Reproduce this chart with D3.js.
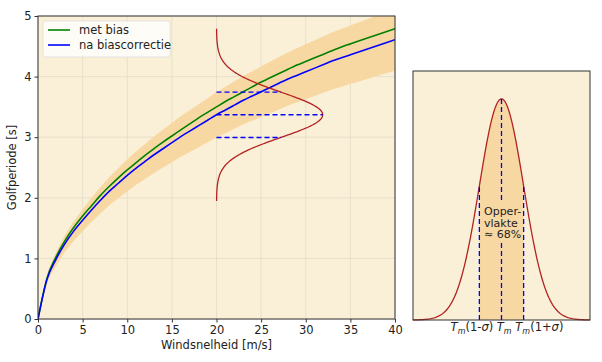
<!DOCTYPE html>
<html>
<head>
<meta charset="utf-8">
<script src="https://cdn.jsdelivr.net/npm/d3@7"></script>
<style>
  body { margin: 0; background: #fff; }
  text { font-family: "DejaVu Sans", sans-serif; fill: #222; }
</style>
</head>
<body>
<div id="chart"></div>
<script>
// wind speed samples [m/s]
var windSpeed = d3.range(0, 41);
// wave period, with bias [s]
var metBias = [0, 0.67, 1.02, 1.29, 1.51, 1.70, 1.87, 2.04, 2.19, 2.33, 2.46,
  2.58, 2.70, 2.81, 2.92, 3.02, 3.12, 3.22, 3.32, 3.41, 3.50,
  3.59, 3.67, 3.75, 3.83, 3.91, 3.98, 4.05, 4.12, 4.19, 4.25,
  4.31, 4.37, 4.43, 4.49, 4.54, 4.59, 4.64, 4.69, 4.74, 4.79];
// wave period after bias correction [s]
var naCorrectie = [0, 0.65, 0.98, 1.24, 1.45, 1.63, 1.80, 1.96, 2.11, 2.24, 2.37,
  2.49, 2.60, 2.71, 2.81, 2.91, 3.01, 3.10, 3.19, 3.28, 3.37,
  3.45, 3.53, 3.61, 3.68, 3.75, 3.82, 3.89, 3.96, 4.02, 4.08,
  4.14, 4.20, 4.26, 4.31, 4.36, 4.41, 4.46, 4.51, 4.56, 4.61];
var sigma = 0.111;          // relative spread of the band
var pdfWind = 20;           // where the distribution is drawn
var pdfPeak = 11.9;         // height of that distribution, in m/s
var xTicks = [0, 5, 10, 15, 20, 25, 30, 35, 40];
var yTicks = [0, 1, 2, 3, 4, 5];
var legendLabels = ["met bias", "na biascorrectie"];
var legendColors = ["#008000", "#0000ff"];

var bg = "#faf0d8", band = "#f8d8a2", red = "#b22222";

var svg = d3.select("#chart").append("svg")
  .attr("width", 602).attr("height", 362);

// ---------- left panel ----------
var L = {left: 38, top: 16, right: 395, bottom: 319};
var x = d3.scaleLinear().domain([0, 40]).range([L.left, L.right]);
var y = d3.scaleLinear().domain([0, 5]).range([L.bottom, L.top]);

var left = svg.append("g");
left.append("rect")
  .attr("x", L.left).attr("y", L.top)
  .attr("width", L.right - L.left).attr("height", L.bottom - L.top)
  .attr("fill", bg);

svg.append("clipPath").attr("id", "clipL").append("rect")
  .attr("x", L.left).attr("y", L.top)
  .attr("width", L.right - L.left).attr("height", L.bottom - L.top);

// grid
left.append("g").selectAll("line").data(xTicks).enter().append("line")
  .attr("x1", function(d){ return x(d); }).attr("x2", function(d){ return x(d); })
  .attr("y1", L.top).attr("y2", L.bottom)
  .attr("stroke", "#e4dcc9").attr("stroke-width", 0.8);
left.append("g").selectAll("line").data(yTicks).enter().append("line")
  .attr("y1", function(d){ return y(d); }).attr("y2", function(d){ return y(d); })
  .attr("x1", L.left).attr("x2", L.right)
  .attr("stroke", "#e4dcc9").attr("stroke-width", 0.8);

var plot = left.append("g").attr("clip-path", "url(#clipL)");

// band Tm(1-sigma) .. Tm(1+sigma)
var area = d3.area()
  .curve(d3.curveMonotoneX)
  .x(function(d, i){ return x(windSpeed[i]); })
  .y0(function(d){ return y(d * (1 - sigma)); })
  .y1(function(d){ return y(d * (1 + sigma)); });
plot.append("path").datum(naCorrectie).attr("d", area).attr("fill", band);

var line = d3.line()
  .curve(d3.curveMonotoneX)
  .x(function(d, i){ return x(windSpeed[i]); })
  .y(function(d){ return y(d); });
plot.append("path").datum(metBias).attr("d", line)
  .attr("fill", "none").attr("stroke", legendColors[0]).attr("stroke-width", 1.6);
plot.append("path").datum(naCorrectie).attr("d", line)
  .attr("fill", "none").attr("stroke", legendColors[1]).attr("stroke-width", 1.6);

// distribution at pdfWind
var mu = naCorrectie[pdfWind], sd = mu * sigma;
var gauss = function(t){ return Math.exp(-0.5 * t * t); };
var ts = d3.range(-3.8, 3.8001, 0.05);
plot.append("path").datum(ts)
  .attr("d", d3.line()
    .x(function(t){ return x(pdfWind + pdfPeak * gauss(t)); })
    .y(function(t){ return y(mu + t * sd); }))
  .attr("fill", "none").attr("stroke", red).attr("stroke-width", 1.3);

plot.selectAll(".dash").data([-1, 0, 1]).enter().append("line")
  .attr("x1", x(pdfWind))
  .attr("x2", function(t){ return x(pdfWind + pdfPeak * gauss(t)); })
  .attr("y1", function(t){ return y(mu + t * sd); })
  .attr("y2", function(t){ return y(mu + t * sd); })
  .attr("stroke", "#0000ff").attr("stroke-width", 1.4)
  .attr("stroke-dasharray", "5,3");

left.append("rect")
  .attr("x", L.left).attr("y", L.top)
  .attr("width", L.right - L.left).attr("height", L.bottom - L.top)
  .attr("fill", "none").attr("stroke", "#333").attr("stroke-width", 1);

// axes
var xAxis = left.append("g").attr("transform", "translate(0," + L.bottom + ")")
  .call(d3.axisBottom(x).tickValues(xTicks).tickFormat(d3.format("d"))
    .tickSize(3.5).tickPadding(3));
var yAxis = left.append("g").attr("transform", "translate(" + L.left + ",0)")
  .call(d3.axisLeft(y).tickValues(yTicks).tickFormat(d3.format("d"))
    .tickSize(3.5).tickPadding(3));
[xAxis, yAxis].forEach(function(a){
  a.select(".domain").remove();
  a.selectAll("text").style("font-size", "11.5px").attr("fill", "#222")
    .style("font-family", "DejaVu Sans, sans-serif");
  a.selectAll("line").attr("stroke", "#333");
});

svg.append("text").attr("x", (L.left + L.right) / 2).attr("y", 349)
  .attr("text-anchor", "middle").style("font-size", "11.5px")
  .text("Windsnelheid [m/s]");
svg.append("text")
  .attr("transform", "translate(16," + ((L.top + L.bottom) / 2) + ") rotate(-90)")
  .attr("text-anchor", "middle").style("font-size", "11.5px")
  .text("Golfperiode [s]");

// legend
var lg = left.append("g");
lg.append("rect").attr("x", 43).attr("y", 21).attr("width", 127).attr("height", 36)
  .attr("rx", 2.5).attr("fill", "#fff").attr("fill-opacity", 0.8)
  .attr("stroke", "#ddd").attr("stroke-width", 0.8);
legendLabels.forEach(function(d, i){
  var ly = 30 + i * 15;
  lg.append("line").attr("x1", 48).attr("x2", 70).attr("y1", ly).attr("y2", ly)
    .attr("stroke", legendColors[i]).attr("stroke-width", 1.6);
  lg.append("text").attr("x", 79).attr("y", ly + 4)
    .style("font-size", "11.5px").text(d);
});

// ---------- right panel ----------
var R = {left: 413, top: 71, right: 590, bottom: 320};
var xr = d3.scaleLinear().domain([-4, 4]).range([R.left, R.right]);
var yr = d3.scaleLinear().domain([0, 1.126]).range([R.bottom, R.top]);

var right = svg.append("g");
right.append("rect")
  .attr("x", R.left).attr("y", R.top)
  .attr("width", R.right - R.left).attr("height", R.bottom - R.top)
  .attr("fill", bg);

var tsR = d3.range(-4, 4.0001, 0.05);
var inner = tsR.filter(function(t){ return t >= -1 - 1e-9 && t <= 1 + 1e-9; });
right.append("path").datum(inner)
  .attr("d", d3.area()
    .x(function(t){ return xr(t); })
    .y0(yr(0))
    .y1(function(t){ return yr(gauss(t)); }))
  .attr("fill", band);

right.append("path").datum(tsR)
  .attr("d", d3.line()
    .x(function(t){ return xr(t); })
    .y(function(t){ return yr(gauss(t)); }))
  .attr("fill", "none").attr("stroke", red).attr("stroke-width", 1.3);

right.selectAll(".vdash").data([-1, 0, 1]).enter().append("line")
  .attr("x1", function(t){ return xr(t); }).attr("x2", function(t){ return xr(t); })
  .attr("y1", yr(0)).attr("y2", function(t){ return yr(gauss(t)); })
  .attr("stroke", "#0000ff").attr("stroke-width", 1.3)
  .attr("stroke-dasharray", "5,3");

right.append("rect")
  .attr("x", R.left).attr("y", R.top)
  .attr("width", R.right - R.left).attr("height", R.bottom - R.top)
  .attr("fill", "none").attr("stroke", "#333").attr("stroke-width", 1);

// note with a band-coloured box behind it
right.append("rect").attr("x", 483).attr("y", 203).attr("width", 38).attr("height", 39)
  .attr("fill", band);
var note = right.append("text").attr("x", 484).attr("y", 215)
  .style("font-size", "11px");
["Opper-", "vlakte", "\u2248 68%"].forEach(function(s, i){
  note.append("tspan").attr("x", 484).attr("dy", i ? 11.7 : 0).text(s);
});

// bottom labels: one line under the three dashed lines
var lab = right.append("text").attr("x", 507).attr("y", 331)
  .attr("text-anchor", "middle").style("font-size", "11.5px");
var parts = [["T", "i"], ["m", "s"], ["(1-", ""], ["\u03c3", "i"], [") ", ""],
  ["T", "i"], ["m", "s"], [" ", ""],
  ["T", "i"], ["m", "s"], ["(1+", ""], ["\u03c3", "i"], [")", ""]];
var down = false;
parts.forEach(function(p){
  var ts2 = lab.append("tspan").text(p[0]);
  if (p[1] === "i" || p[1] === "s") ts2.style("font-style", "italic");
  if (p[1] === "s") { ts2.style("font-size", "8px").attr("dy", 3); down = true; }
  else if (down) { ts2.attr("dy", -3); down = false; }
});
</script>
</body>
</html>
